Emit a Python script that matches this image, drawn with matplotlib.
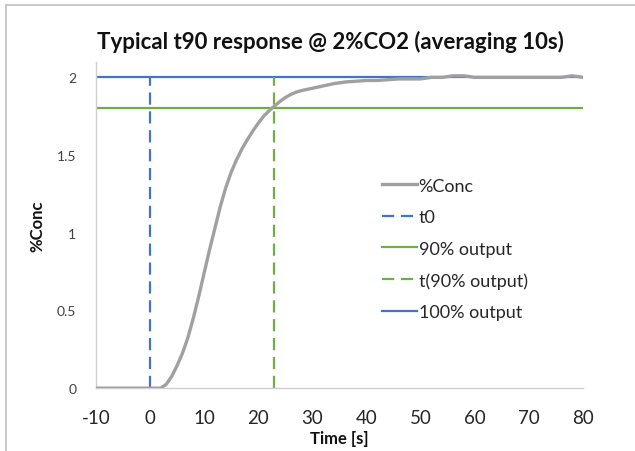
import matplotlib
matplotlib.use("Agg")
import matplotlib.pyplot as plt
from matplotlib.lines import Line2D

plt.rcParams['font.family'] = ['Lato', 'DejaVu Sans']
plt.rcParams['axes.unicode_minus'] = False

# response curve
time_s = [-10, 0, 2, 3, 4, 5, 6, 7, 8, 9, 10, 11, 12, 13, 14, 15, 16, 17, 18, 19,
          20, 21, 22, 23, 24, 25, 26, 27, 28, 30, 32, 34, 36, 38, 40, 42, 44, 46,
          48, 50, 52, 54, 56, 58, 60, 62, 64, 66, 68, 70, 72, 74, 76, 78, 80]
conc = [0, 0, 0, 0.025, 0.075, 0.145, 0.225, 0.325, 0.45, 0.59, 0.74, 0.89, 1.03, 1.17,
        1.29, 1.39, 1.47, 1.54, 1.60, 1.655, 1.705, 1.75, 1.785, 1.815, 1.845, 1.87,
        1.89, 1.905, 1.915, 1.93, 1.945, 1.96, 1.97, 1.975, 1.98, 1.98, 1.985, 1.99,
        1.99, 1.99, 2.0, 2.0, 2.01, 2.01, 2.0, 2.0, 2.0, 2.0, 2.0, 2.0, 2.0, 2.0,
        2.0, 2.01, 2.0]

t0 = 0
t90 = 23
level_90 = 1.8
level_100 = 2.0
x_range = [-10, 80]

x_ticks = [-10, 0, 10, 20, 30, 40, 50, 60, 70, 80]
y_ticks = [0, 0.5, 1, 1.5, 2]
y_labels = ['0', '0.5', '1', '1.5', '2']

grey = '#a0a0a0'
blue = '#4472c4'
green = '#70ad47'
dash = (5.5, 3)

fig = plt.figure(figsize=(6.35, 4.52), dpi=100)
ax = fig.add_axes([0.151, 0.139, 0.767, 0.722])

ax.plot(x_range, [level_100, level_100], color=blue, lw=1.6, zorder=2)
ax.plot(x_range, [level_90, level_90], color=green, lw=1.6, zorder=2)
ax.plot([t0, t0], [0, level_100], color=blue, lw=1.6, dashes=dash, zorder=2)
ax.plot([t90, t90], [0, level_100], color=green, lw=1.6, dashes=dash, zorder=2)
ax.plot(time_s, conc, color=grey, lw=2.4, zorder=3)

ax.set_xlim(-10, 80)
ax.set_ylim(0, 2.1)
ax.set_xticks(x_ticks)
ax.set_yticks(y_ticks)
ax.set_yticklabels(y_labels)
ax.tick_params(axis='x', length=0, labelsize=13.5, labelcolor='#262626', pad=15)
ax.tick_params(axis='y', length=0, labelsize=10, labelcolor='#404040', pad=14)

for side in ['top', 'right']:
    ax.spines[side].set_visible(False)
for side in ['left', 'bottom']:
    ax.spines[side].set_color('#d0d0d0')
    ax.spines[side].set_linewidth(1.0)

ax.set_xlabel('Time [s]', fontsize=12, fontweight='bold', color='#111111', labelpad=3)
ax.set_ylabel('%Conc', fontsize=12, fontweight='bold', color='#111111', labelpad=8)
fig.text(0.52, 0.907, 'Typical t90 response @ 2%CO2 (averaging 10s)',
         ha='center', va='center', fontsize=16, fontweight='bold', color='#111111')

handles = [
    Line2D([], [], color=grey, lw=2.4),
    Line2D([], [], color=blue, lw=1.6, dashes=dash),
    Line2D([], [], color=green, lw=1.6),
    Line2D([], [], color=green, lw=1.6, dashes=dash),
    Line2D([], [], color=blue, lw=1.6),
]
labels = ['%Conc', 't0', '90% output', 't(90% output)', '100% output']
ax.legend(handles, labels, loc='upper left', bbox_to_anchor=(0.555, 0.695),
          frameon=False, fontsize=13, handlelength=1.9, handletextpad=0.1,
          labelspacing=0.86, labelcolor='#262626')

# outer frame of the pasted chart
fig.add_artist(Line2D([6 / 635, 6 / 635], [0, 1 - 6 / 452], color='#c0c0c0', lw=1.2))
fig.add_artist(Line2D([6 / 635, 1], [1 - 6 / 452, 1 - 6 / 452], color='#c0c0c0', lw=1.2))

fig.savefig('out.png', dpi=100)
plt.close('all')
